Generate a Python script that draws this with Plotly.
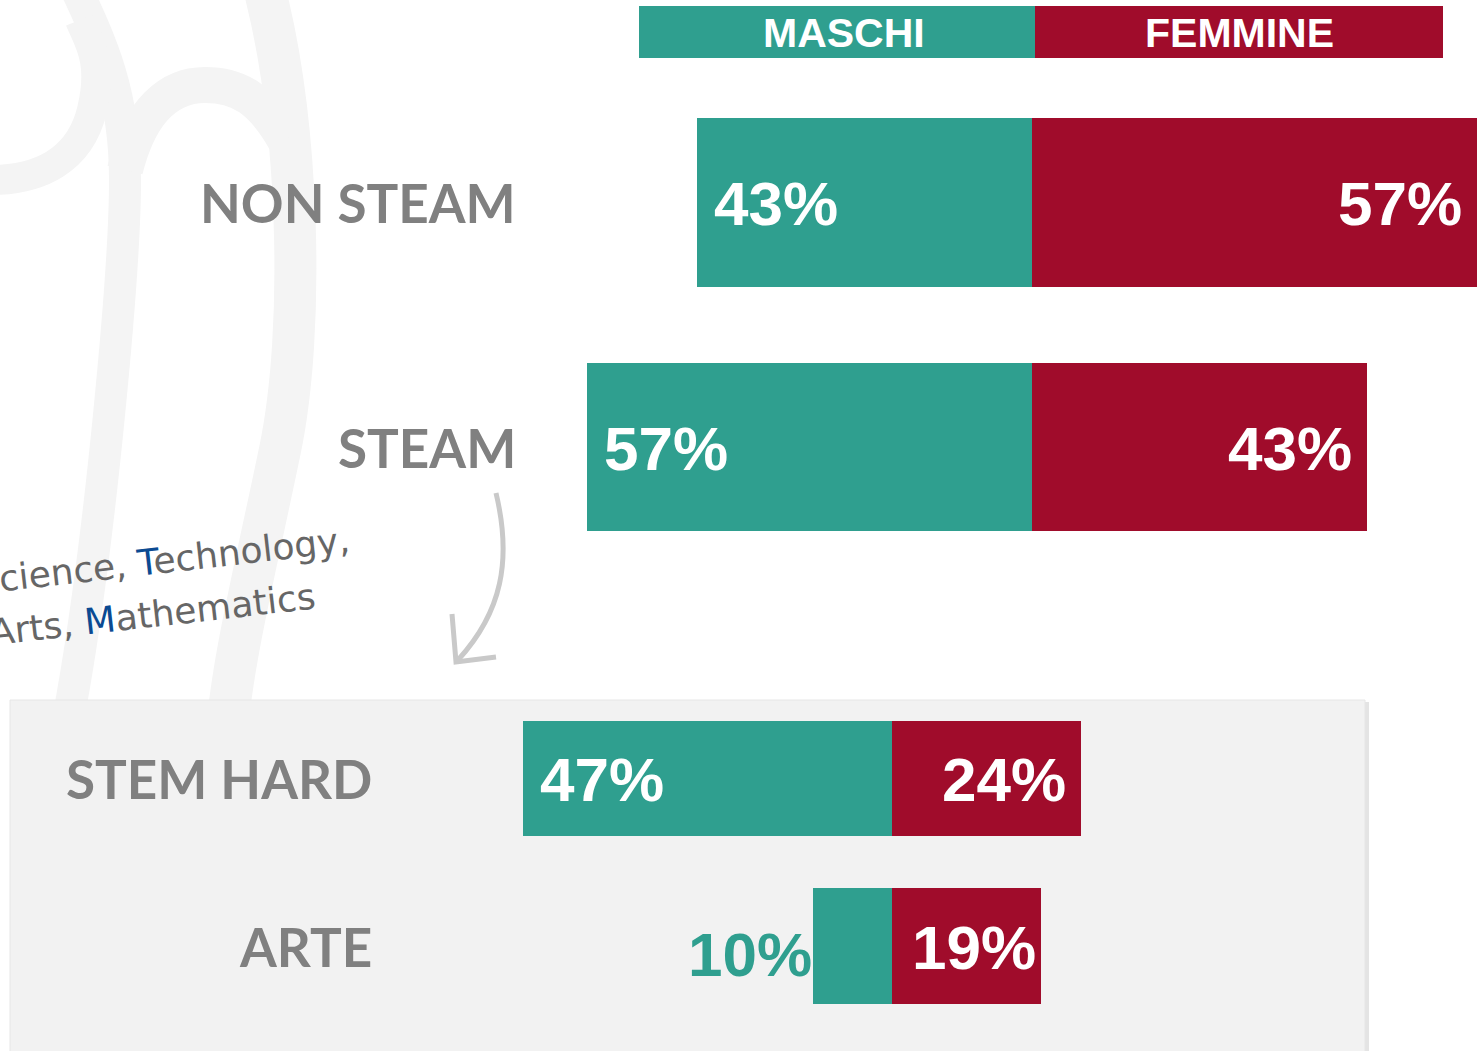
import plotly.graph_objects as go

# ---------------- data ----------------
series_names = ["MASCHI", "FEMMINE"]
top_categories = ["NON STEAM", "STEAM"]
top_maschi = [43, 57]
top_femmine = [57, 43]
bottom_categories = ["STEM HARD", "ARTE"]
bottom_maschi = [47, 10]
bottom_femmine = [24, 19]

# ---------------- style ----------------
W, H = 1483, 1051
TEAL = "#2f9f8f"
RED = "#a00c2b"
LABEL_GRAY = "#808080"
BLUE = "#0b4a92"

PPT_TOP, CENTER_TOP = 7.8, 1032      # px per percent, zero line (px)
PPT_BOT, CENTER_BOT = 7.86, 892
ROW0_TOP, ROW_STEP_TOP, BAR_H_TOP = 202.5, 244.5, 168.5
ROW0_BOT, ROW_STEP_BOT, BAR_H_BOT = 778.5, 167.5, 115.5


def px(x):
    return x / W


def py(y):
    return 1 - y / H


def path(points_cmds):
    out = []
    for tok in points_cmds:
        if isinstance(tok, str):
            out.append(tok)
        else:
            out.append(f"{px(tok[0]):.5f},{py(tok[1]):.5f}")
    return " ".join(out)


fig = go.Figure()

# bars
fig.add_trace(go.Bar(y=top_categories, x=[-v for v in top_maschi], orientation="h",
                     marker=dict(color=TEAL, line=dict(width=0)), width=BAR_H_TOP / ROW_STEP_TOP,
                     name=series_names[0], xaxis="x", yaxis="y", hoverinfo="skip", showlegend=False))
fig.add_trace(go.Bar(y=top_categories, x=top_femmine, orientation="h",
                     marker=dict(color=RED, line=dict(width=0)), width=BAR_H_TOP / ROW_STEP_TOP,
                     name=series_names[1], xaxis="x", yaxis="y", hoverinfo="skip", showlegend=False))
fig.add_trace(go.Bar(y=bottom_categories, x=[-v for v in bottom_maschi], orientation="h",
                     marker=dict(color=TEAL, line=dict(width=0)), width=BAR_H_BOT / ROW_STEP_BOT,
                     name=series_names[0], xaxis="x2", yaxis="y2", hoverinfo="skip", showlegend=False))
fig.add_trace(go.Bar(y=bottom_categories, x=bottom_femmine, orientation="h",
                     marker=dict(color=RED, line=dict(width=0)), width=BAR_H_BOT / ROW_STEP_BOT,
                     name=series_names[1], xaxis="x2", yaxis="y2", hoverinfo="skip", showlegend=False))

annotations = []
VAL_FONT = dict(family="Liberation Sans, Arial, sans-serif", size=62, color="white")
TEXT_W = 123  # approx width of a "NN%" label in px


def value_labels(cats, maschi, femmine, xa, ya, ppt):
    for c, m, f in zip(cats, maschi, femmine):
        mw = m * ppt
        if mw > TEXT_W + 20:
            annotations.append(dict(x=-m, y=c, xref=xa, yref=ya, text=f"<b>{m}%</b>", showarrow=False,
                                    xanchor="left", yanchor="middle", xshift=15, yshift=-1,
                                    font=VAL_FONT))
        else:
            annotations.append(dict(x=-m, y=c, xref=xa, yref=ya, text=f"<b>{m}%</b>", showarrow=False,
                                    xanchor="right", yanchor="middle", xshift=1, yshift=-8,
                                    font=dict(VAL_FONT, color=TEAL)))
        fw = f * ppt
        pad = min(13, max(3, fw - TEXT_W - 23))
        annotations.append(dict(x=f, y=c, xref=xa, yref=ya, text=f"<b>{f}%</b>", showarrow=False,
                                xanchor="right", yanchor="middle", xshift=-pad, yshift=-1,
                                font=VAL_FONT))


value_labels(top_categories, top_maschi, top_femmine, "x", "y", PPT_TOP)
value_labels(bottom_categories, bottom_maschi, bottom_femmine, "x2", "y2", PPT_BOT)

CAT_FONT = dict(family="Lato, Raleway, sans-serif", size=53, color=LABEL_GRAY)
for c in top_categories:
    annotations.append(dict(x=px(518), y=c, xref="paper", yref="y", text=f"<b>{c}</b>",
                            showarrow=False, xanchor="right", yanchor="middle", font=CAT_FONT))
for c in bottom_categories:
    annotations.append(dict(x=px(374), y=c, xref="paper", yref="y2", text=f"<b>{c}</b>",
                            showarrow=False, xanchor="right", yanchor="middle", font=CAT_FONT))

# header legend
HDR_FONT = dict(family="Liberation Sans, Arial, sans-serif", size=41, color="white")
annotations.append(dict(x=px(844), y=py(33), xref="paper", yref="paper", text=f"<b>{series_names[0]}</b>",
                        showarrow=False, xanchor="center", yanchor="middle", font=HDR_FONT))
annotations.append(dict(x=px(1239), y=py(33), xref="paper", yref="paper", text=f"<b>{series_names[1]}</b>",
                        showarrow=False, xanchor="center", yanchor="middle", font=HDR_FONT))

# handwritten note
HAND_FONT = dict(family="DejaVu Sans, sans-serif", size=36, color="#666666")
annotations.append(dict(x=px(163), y=py(560), xref="paper", yref="paper",
                        text=f"Science, <span style='color:{BLUE}'>T</span>echnology,",
                        showarrow=False, xanchor="center", yanchor="middle", textangle=-6.5,
                        font=HAND_FONT))
annotations.append(dict(x=px(152), y=py(614), xref="paper", yref="paper",
                        text=f"Arts, <span style='color:{BLUE}'>M</span>athematics",
                        showarrow=False, xanchor="center", yanchor="middle", textangle=-6.5,
                        font=HAND_FONT))

shapes = []
DECO = "#f4f4f4"
# faint decorative strokes in the background
shapes.append(dict(type="path", xref="paper", yref="paper", layer="below",
                   path=path(["M", (262, -20), "C", (300, 120), (305, 330), (280, 450),
                              "S", (235, 650), (228, 720)]),
                   line=dict(color=DECO, width=42)))
shapes.append(dict(type="path", xref="paper", yref="paper", layer="below",
                   path=path(["M", (72, -20), "C", (100, 40), (125, 90), (125, 180),
                              "S", (100, 550), (68, 720)]),
                   line=dict(color=DECO, width=32)))
shapes.append(dict(type="path", xref="paper", yref="paper", layer="below",
                   path=path(["M", (125, 170), "C", (140, 110), (170, 85), (205, 85),
                              "S", (262, 100), (285, 140)]),
                   line=dict(color=DECO, width=36)))
shapes.append(dict(type="path", xref="paper", yref="paper", layer="below",
                   path=path(["M", (-10, 180), "C", (40, 180), (80, 160), (92, 110),
                              "S", (88, 40), (80, 20)]),
                   line=dict(color=DECO, width=30)))
# arrow
shapes.append(dict(type="path", xref="paper", yref="paper", layer="below",
                   path=path(["M", (496, 493), "C", (512, 560), (502, 612), (458, 660)]),
                   line=dict(color="#c9c9c9", width=5)))
shapes.append(dict(type="path", xref="paper", yref="paper", layer="below",
                   path=path(["M", (452, 614), "L", (456, 662), "L", (496, 657)]),
                   line=dict(color="#c9c9c9", width=5)))
# gray panel with soft shadow
shapes.append(dict(type="rect", xref="paper", yref="paper", layer="below",
                   x0=px(12), x1=px(1369), y0=py(702), y1=py(1060),
                   fillcolor="#e4e4e4", line=dict(width=0)))
shapes.append(dict(type="rect", xref="paper", yref="paper", layer="below",
                   x0=px(10), x1=px(1365), y0=py(700), y1=py(1060),
                   fillcolor="#f2f2f2", line=dict(color="#e6e6e6", width=1)))
# header legend boxes
shapes.append(dict(type="rect", xref="paper", yref="paper", layer="below",
                   x0=px(639), x1=px(1035), y0=py(6), y1=py(58),
                   fillcolor=TEAL, line=dict(width=0)))
shapes.append(dict(type="rect", xref="paper", yref="paper", layer="below",
                   x0=px(1035), x1=px(1443), y0=py(6), y1=py(58),
                   fillcolor=RED, line=dict(width=0)))

fig.update_layout(
    width=W, height=H,
    margin=dict(l=0, r=0, t=0, b=0),
    paper_bgcolor="white", plot_bgcolor="rgba(0,0,0,0)",
    barmode="relative", bargap=0,
    showlegend=False,
    xaxis=dict(domain=[0, 1], range=[-CENTER_TOP / PPT_TOP, (W - CENTER_TOP) / PPT_TOP],
               visible=False, fixedrange=True, anchor="y"),
    yaxis=dict(domain=[0, 1], type="category", categoryorder="array", categoryarray=top_categories,
               range=[(H - ROW0_TOP) / ROW_STEP_TOP, -ROW0_TOP / ROW_STEP_TOP],
               visible=False, fixedrange=True, anchor="x"),
    xaxis2=dict(domain=[0, 1], overlaying="x", anchor="y2",
                range=[-CENTER_BOT / PPT_BOT, (W - CENTER_BOT) / PPT_BOT],
                visible=False, fixedrange=True),
    yaxis2=dict(domain=[0, 1], overlaying="y", anchor="x2", type="category", categoryorder="array",
                categoryarray=bottom_categories,
                range=[(H - ROW0_BOT) / ROW_STEP_BOT, -ROW0_BOT / ROW_STEP_BOT],
                visible=False, fixedrange=True),
    annotations=annotations,
    shapes=shapes,
)

fig.write_html("out.html", config={"displayModeBar": False},
               post_script="document.body.style.margin='0';document.body.style.overflow='hidden';")
